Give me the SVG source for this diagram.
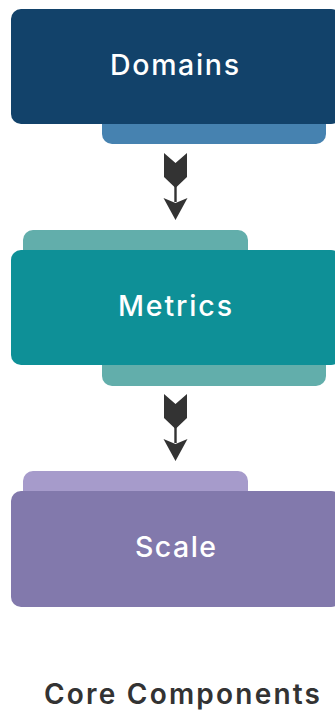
<svg xmlns="http://www.w3.org/2000/svg" width="335" height="713" viewBox="0 0 335 713">
  <defs>
    <!-- fletched arrow: tail feathers, shaft and head, drawn at origin -->
    <g id="fletched-arrow">
      <path d="M-11.5 0 L0 10 L11.5 0 L11.5 24 L0 35 L-11.5 24 Z" fill="#333333"/>
      <rect x="-1.2" y="33" width="2.4" height="16" fill="#333333"/>
      <path d="M-12 45 L0 50 L12 45 L0 67 Z" fill="#333333"/>
    </g>
  </defs>
  <style>
    .label { font-family: Inter, "Liberation Sans", sans-serif; font-size: 28.5px; font-weight: 500; fill: #ffffff; }
    .title { font-family: Inter, "Liberation Sans", sans-serif; font-size: 28px; font-weight: 600; fill: #333333; }
  </style>
  <rect width="335" height="713" fill="#ffffff"/>

  <g id="domains">
    <rect x="102" y="100" width="224" height="44" rx="10" fill="#4682B0"/>
    <rect x="11" y="9" width="330" height="115" rx="10" fill="#12426A"/>
    <text class="label" x="110" y="75" textLength="129" lengthAdjust="spacing">Domains</text>
  </g>

  <g id="metrics">
    <rect x="23" y="230" width="225" height="40" rx="10" fill="#62AEAB"/>
    <rect x="102" y="341" width="224" height="45" rx="10" fill="#62AEAB"/>
    <rect x="11" y="250" width="330" height="115" rx="10" fill="#0E9097"/>
    <text class="label" x="118" y="316" textLength="114" lengthAdjust="spacing">Metrics</text>
  </g>

  <g id="scale">
    <rect x="23" y="471" width="225" height="40" rx="10" fill="#A69BCB"/>
    <rect x="11" y="491" width="330" height="116" rx="10" fill="#8279AC"/>
    <text class="label" x="135" y="557" textLength="81" lengthAdjust="spacing">Scale</text>
  </g>

  <g id="connectors">
    <use href="#fletched-arrow" x="175.5" y="153"/>
    <use href="#fletched-arrow" x="175.5" y="394"/>
  </g>

  <text class="title" x="44" y="704" textLength="276" lengthAdjust="spacing">Core Components</text>
</svg>
